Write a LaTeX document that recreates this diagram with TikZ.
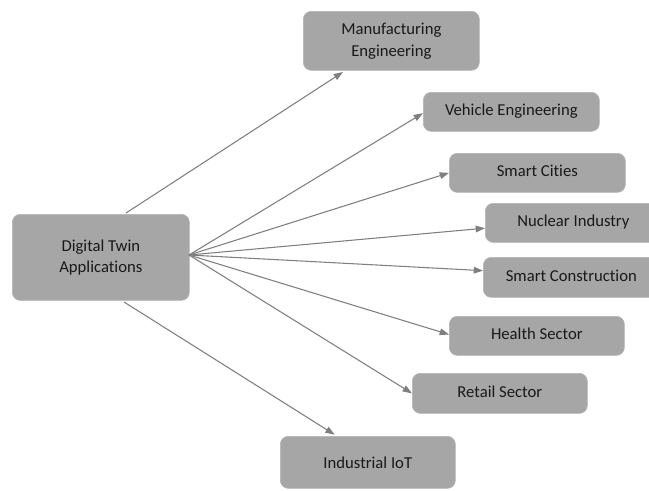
\documentclass[tikz,border=0pt]{standalone}
\usepackage{fontspec}
\setmainfont[Ligatures={NoCommon,NoRequired,NoContextual}]{Carlito}
\usetikzlibrary{arrows.meta}
\definecolor{boxgray}{HTML}{A6A6A6}
\definecolor{boxedge}{HTML}{B4B4B4}
\definecolor{linegray}{HTML}{7F7F7F}
\newcommand{\lift}[1]{\raisebox{2.5pt}{#1}}
\tikzset{
  box/.style={rectangle, rounded corners=6pt, fill=boxgray, draw=boxedge, line width=0.5pt,
    anchor=north west, inner sep=0pt, align=center, font=\fontsize{12.5}{15.5}\selectfont, text=black!90},
  conn/.style={draw=linegray, line width=0.8pt, -{Triangle[length=7pt,width=5pt]}}
}
\begin{document}
\begin{tikzpicture}[x=0.75pt,y=-0.75pt]
\useasboundingbox (0,0) rectangle (649,490);
\node[box, minimum width=177*0.75pt, minimum height=86*0.75pt] (dt) at (12,214) {Digital Twin\\Applications};
\node[box, minimum width=176*0.75pt, minimum height=59*0.75pt] (man) at (303,11) {Manufacturing\\[1pt]Engineering};
\node[box, minimum width=176*0.75pt, minimum height=39*0.75pt] (veh) at (423,92) {\lift{Vehicle Engineering}};
\node[box, minimum width=176*0.75pt, minimum height=39*0.75pt] (sc) at (449,153) {\lift{Smart Cities}};
\node[box, minimum width=176*0.75pt, minimum height=39*0.75pt] (nuc) at (485,203) {\lift{Nuclear Industry}};
\node[box, minimum width=176*0.75pt, minimum height=40*0.75pt] (con) at (483,257) {\lift{Smart Construction}};
\node[box, minimum width=175*0.75pt, minimum height=39*0.75pt] (hea) at (449,316) {\lift{Health Sector}};
\node[box, minimum width=175*0.75pt, minimum height=40*0.75pt] (ret) at (412,373) {\lift{Retail Sector}};
\node[box, minimum width=175*0.75pt, minimum height=52*0.75pt] (iot) at (280,436) {Industrial IoT};
\coordinate (o) at (189,255);
\coordinate (mo) at (126,213);
\coordinate (io) at (124,302);
\draw[conn] (mo) -- ([xshift=30pt,yshift=-1pt]man.south west);
\draw[conn] (o) -- ([yshift=-1pt]veh.west);
\draw[conn] (o) -- (sc.west);
\draw[conn] (o) -- ([yshift=-4pt]nuc.west);
\draw[conn] (o) -- ([yshift=5pt]con.west);
\draw[conn] (o) -- ([yshift=1pt]hea.west);
\draw[conn] (o) -- (ret.west);
\draw[conn] (io) -- ([xshift=41pt,yshift=1pt]iot.north west);
\end{tikzpicture}
\end{document}
